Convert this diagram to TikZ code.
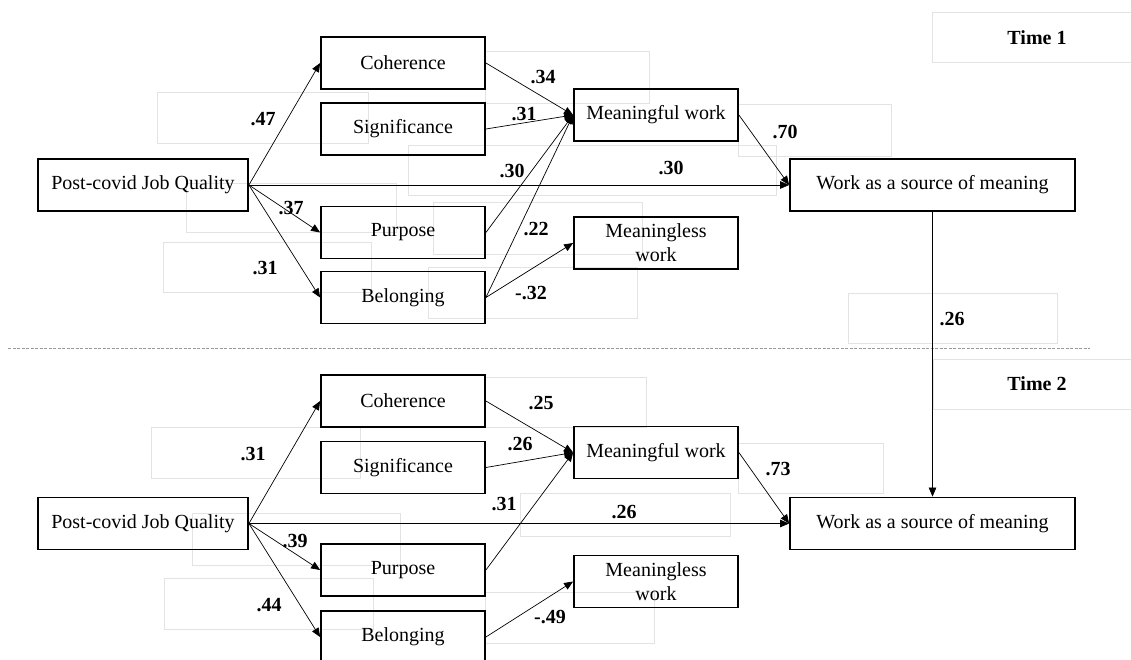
\documentclass[tikz,border=0pt]{standalone}
\usepackage{fontspec}
\setmainfont{Liberation Serif}
\usetikzlibrary{arrows.meta}
\newcommand{\myfs}{\fontsize{20}{24}\selectfont}
\begin{document}
\begin{tikzpicture}[x=1pt,y=-1pt,
  box/.style={draw, line width=1.8pt, minimum width=164pt, minimum height=52pt, inner sep=0pt, align=center, font=\myfs},
  lbl/.style={font=\myfs\bfseries, inner sep=0pt},
  arr/.style={line width=0.7pt, -{Triangle[length=9pt,width=7.5pt]}},
  ghost/.style={draw=gray!22, line width=0.8pt},
  sep/.style={draw=gray!80, line width=0.9pt, dash pattern=on 3pt off 1.5pt}]
\useasboundingbox (0,0) rectangle (1131,660);
% faint text-box outlines
\draw[ghost] (932,12) rectangle (1131,62);
\draw[ghost] (157,92) rectangle (368,143);
\draw[ghost] (186,183) rectangle (396,232);
\draw[ghost] (163,242) rectangle (371,292);
\draw[ghost] (485,51) rectangle (649,103);
\draw[ghost] (408,145) rectangle (776,195);
\draw[ghost] (433,202) rectangle (642,254);
\draw[ghost] (428,267) rectangle (637,318);
\draw[ghost] (738,104) rectangle (891,156);
\draw[ghost] (848,293) rectangle (1057,343);
\draw[ghost] (933,359) rectangle (1131,409);
\draw[ghost] (151,427) rectangle (360,478);
\draw[ghost] (192,513) rectangle (400,565);
\draw[ghost] (164,578) rectangle (373,629);
\draw[ghost] (485,377) rectangle (646,427);
\draw[ghost] (520,493) rectangle (730,536);
\draw[ghost] (485,592) rectangle (654,643);
\draw[ghost] (738,443) rectangle (883,493);
% separator
\draw[sep] (8,348) -- (1090,348);
% ---------- Time 1 ----------
\node[box, minimum width=210pt] (pjqA) at (143,185) {Post-covid Job Quality};
\node[box] (cohA) at (403,63) {Coherence};
\node[box] (sigA) at (403,129) {Significance};
\node[box] (purA) at (403,232.5) {Purpose};
\node[box] (belA) at (403,297.5) {Belonging};
\node[box] (mwA) at (656,115) {Meaningful work};
\node[box] (mlwA) at (656,243) {Meaningless\\work};
\node[box, minimum width=285pt] (wsmA) at (932.5,185) {Work as a source of meaning};
\node[lbl] (t1) at (1037,38) {Time 1};
\draw[arr] (pjqA.east) -- (cohA.west);
\draw[arr] (pjqA.east) -- (purA.west);
\draw[arr] (pjqA.east) -- (belA.west);
\draw[arr] (pjqA.east) -- (wsmA.west);
\draw[arr] (cohA.east) -- (mwA.west);
\draw[arr] (sigA.east) -- (mwA.west);
\draw[arr] (purA.east) -- (mwA.west);
\draw[arr] (belA.east) -- (mwA.west);
\draw[arr] (belA.east) -- (mlwA.west);
\draw[arr] (mwA.east) -- (wsmA.west);
\node[lbl] (a1) at (263,119) {.47};
\node[lbl] (a2) at (291,208) {.37};
\node[lbl] (a3) at (265,268) {.31};
\node[lbl] (a4) at (543,77) {.34};
\node[lbl] (a5) at (524,114) {.31};
\node[lbl] (a6) at (512,171) {.30};
\node[lbl] (a7) at (671,168) {.30};
\node[lbl] (a8) at (536,229) {.22};
\node[lbl] (a9) at (531,293) {-.32};
\node[lbl] (a10) at (785,132) {.70};
% ---------- Time 2 ----------
\node[box, minimum width=210pt] (pjqB) at (143,523.5) {Post-covid Job Quality};
\node[box] (cohB) at (403,401) {Coherence};
\node[box] (sigB) at (403,467.5) {Significance};
\node[box] (purB) at (403,570) {Purpose};
\node[box] (belB) at (403,637) {Belonging};
\node[box] (mwB) at (656,452.5) {Meaningful work};
\node[box] (mlwB) at (656,581.5) {Meaningless\\work};
\node[box, minimum width=285pt] (wsmB) at (932.5,523.5) {Work as a source of meaning};
\node[lbl] (t2) at (1037,384) {Time 2};
\draw[arr] (pjqB.east) -- (cohB.west);
\draw[arr] (pjqB.east) -- (purB.west);
\draw[arr] (pjqB.east) -- (belB.west);
\draw[arr] (pjqB.east) -- (wsmB.west);
\draw[arr] (cohB.east) -- (mwB.west);
\draw[arr] (sigB.east) -- (mwB.west);
\draw[arr] (purB.east) -- (mwB.west);
\draw[arr] (belB.east) -- (mlwB.west);
\draw[arr] (mwB.east) -- (wsmB.west);
\node[lbl] (b1) at (253,454) {.31};
\node[lbl] (b2) at (295,541) {.39};
\node[lbl] (b3) at (269,605) {.44};
\node[lbl] (b4) at (541,403) {.25};
\node[lbl] (b5) at (520,444) {.26};
\node[lbl] (b6) at (504,504) {.31};
\node[lbl] (b7) at (624,512) {.26};
\node[lbl] (b8) at (550,617) {-.49};
\node[lbl] (b9) at (778,469) {.73};
% stability path
\draw[arr] (wsmA.south) -- (wsmB.north);
\node[lbl] (c1) at (952,319) {.26};
\end{tikzpicture}
\end{document}
